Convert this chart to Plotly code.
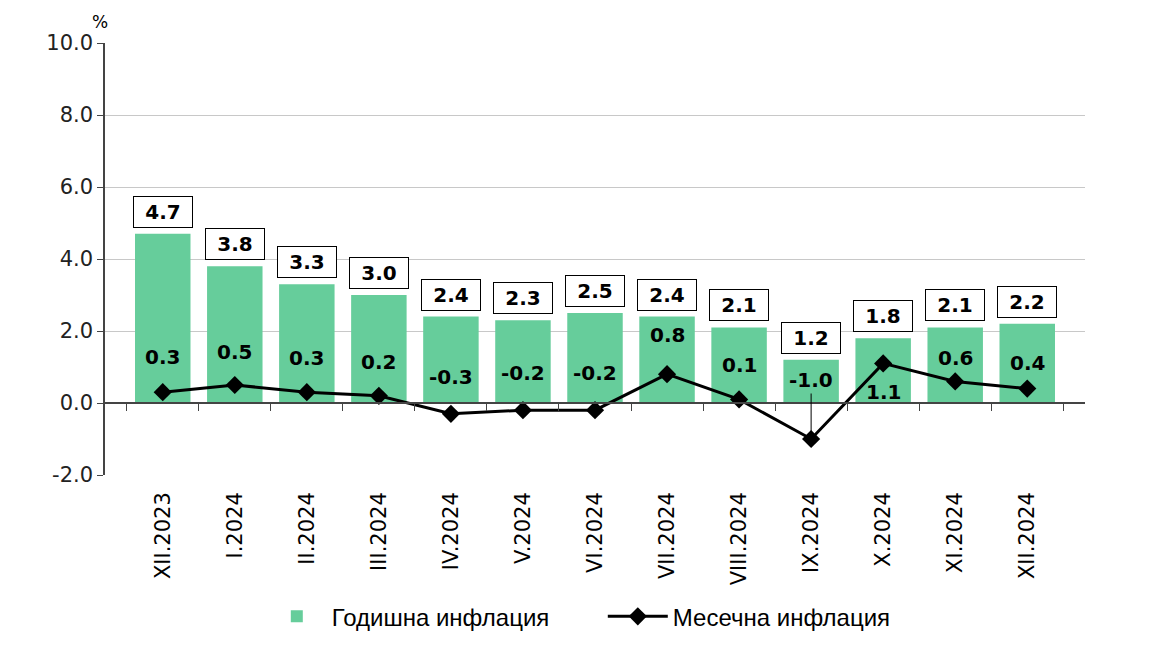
import plotly.graph_objects as go

# Data
months = ["XII.2023", "I.2024", "II.2024", "III.2024", "IV.2024", "V.2024", "VI.2024",
          "VII.2024", "VIII.2024", "IX.2024", "X.2024", "XI.2024", "XII.2024"]
annual = [4.7, 3.8, 3.3, 3.0, 2.4, 2.3, 2.5, 2.4, 2.1, 1.2, 1.8, 2.1, 2.2]
monthly = [0.3, 0.5, 0.3, 0.2, -0.3, -0.2, -0.2, 0.8, 0.1, -1.0, 1.1, 0.6, 0.4]
y_ticks = [-2, 0, 2, 4, 6, 8, 10]
y_ticktext = ["-2.0", "0.0", "2.0", "4.0", "6.0", "8.0", "10.0"]

# pixel offsets of the monthly labels from their points
label_shift = [35, 33, 34, 34, 37, 37, 37, 39, 34, 59, -29, 23, 26]

FONT = "DejaVu Sans, Verdana, sans-serif"
GREEN = "#66CD9B"

fig = go.Figure()

fig.add_trace(go.Bar(x=months, y=annual, name="Годишна инфлация",
                     marker=dict(color=GREEN, line=dict(width=0))))
fig.add_trace(go.Scatter(x=months, y=monthly, name="Месечна инфлация", mode="lines+markers",
                         line=dict(color="black", width=3),
                         marker=dict(symbol="diamond", size=14, color="black"),
                         xaxis="x2"))

# boxed labels above the bars
for m, v in zip(months, annual):
    fig.add_annotation(x=m, y=v, text="<b>%.1f</b>" % v, showarrow=False, yshift=22,
                       width=52, height=24, align="center",
                       bgcolor="white", bordercolor="black", borderwidth=1, borderpad=3,
                       font=dict(family=FONT, size=20, color="black"))

# monthly labels
for m, v, s in zip(months, monthly, label_shift):
    if v == -1.0:
        fig.add_annotation(x=m, y=v, text="<b>%.1f</b>" % v, showarrow=True, arrowhead=0,
                           arrowwidth=1, arrowcolor="black", ax=0, ay=-s, standoff=6,
                           font=dict(family=FONT, size=20, color="black"))
    else:
        fig.add_annotation(x=m, y=v, text="<b>%.1f</b>" % v, showarrow=False, yshift=s,
                           font=dict(family=FONT, size=20, color="black"))

fig.add_annotation(xref="paper", yref="paper", x=-0.005, y=1.0, yshift=21, text="%",
                   xanchor="center", yanchor="middle", showarrow=False,
                   font=dict(family=FONT, size=17, color="black"))

fig.update_layout(
    width=1152, height=648,
    margin=dict(l=97, r=75, t=35, b=181),
    plot_bgcolor="white", paper_bgcolor="white",
    bargap=0.23,
    font=dict(family=FONT, color="#222"),
    showlegend=True,
    legend=dict(orientation="h", x=0.16, xanchor="left", y=-0.276, yanchor="top",
                font=dict(family="Liberation Sans, Arial, sans-serif", size=24, color="black"),
                itemwidth=60, entrywidth=266, entrywidthmode="pixels"),
    xaxis=dict(type="category", showline=False, ticks="", tickangle=-90,
               tickfont=dict(family=FONT, size=21, color="black"), ticklabelstandoff=12,
               showgrid=False),
    xaxis2=dict(type="category", overlaying="x", matches="x", anchor="free",
                position=1 / 6, showticklabels=False, showline=True, linecolor="#444",
                linewidth=1.5, ticks="outside", tickson="boundaries", ticklen=7,
                tickcolor="#444", showgrid=False),
    yaxis=dict(range=[-2, 10], tickvals=y_ticks, ticktext=y_ticktext, showline=True,
               linecolor="#444", linewidth=1.5, ticks="outside", ticklen=6, tickcolor="#444",
               gridcolor="#C8C8C8", gridwidth=1, zeroline=False,
               tickfont=dict(family=FONT, size=21, color="#222")),
)

fig.write_html("out.html")
